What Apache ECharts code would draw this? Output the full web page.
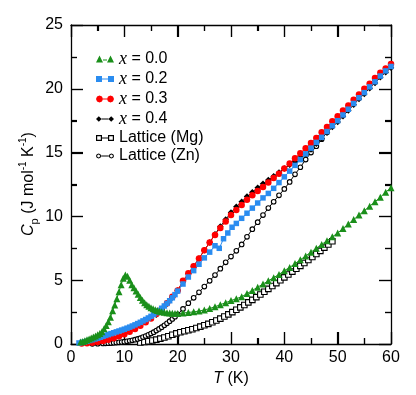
<!DOCTYPE html>
<html><head><meta charset="utf-8">
<script src="https://cdn.jsdelivr.net/npm/echarts@6/dist/echarts.min.js"></script>
<style>html,body{margin:0;padding:0;background:#fff;}#c{width:416px;height:395px;}</style>
</head><body><div id="c"></div>
<script>
// ---- data (T in K, Cp in J mol^-1 K^-1) ----
const seriesNames = ['x = 0.0', 'x = 0.2', 'x = 0.3', 'x = 0.4', 'Lattice (Mg)', 'Lattice (Zn)'];
const xTicks = [0, 10, 20, 30, 40, 50, 60];
const yTicks = [0, 5, 10, 15, 20, 25];

const T_x00 = [1.8,2.2,2.6,3.0,3.4,3.8,4.2,4.6,5.0,5.4,5.8,6.2,6.6,7.0,7.4,7.8,8.2,8.6,9.0,9.4,9.8,10.2,10.6,11.0,11.4,11.8,12.2,12.6,13.0,13.4,13.8,14.2,14.6,15.0,15.4,15.8,16.2,16.6,17.0,17.5,18,18.5,19,19.5,20,
  21,22,23,24,25,26,27,28,29,30,31,32,33,34,35,36,37,38,39,40,41,42,43,44,45,46,47,48,49,50,51,52,53,54,55,56,57,58,59,60];
const C_x00 = [0.15,0.2,0.26,0.33,0.4,0.47,0.55,0.63,0.72,0.83,0.96,1.2,1.45,1.75,2.1,2.6,3.05,3.55,4.1,4.65,5.15,5.4,5.3,5.0,4.65,4.4,4.15,3.9,3.65,3.42,3.24,3.08,2.95,2.85,2.76,2.68,2.62,2.57,2.52,2.48,2.45,2.43,2.41,2.4,2.4,
  2.43,2.47,2.52,2.58,2.67,2.78,2.92,3.08,3.24,3.4,3.55,3.7,3.95,4.2,4.45,4.7,4.95,5.2,5.45,5.75,6.0,6.3,6.6,6.9,7.2,7.5,7.8,8.1,8.4,8.7,9.05,9.4,9.75,10.1,10.45,10.8,11.15,11.5,11.9,12.25];

const T_x02 = [1.5,2,2.5,3,3.5,4,4.5,5,5.5,6,6.5,7,7.5,8,8.5,9,9.5,10,10.5,11,11.5,12,12.5,13,13.5,14,14.5,15,15.5,16,16.5,17,17.5,18,18.5,19,19.5,20,
  21,22,23,24,25,26,27,27.8,28.6,29.4,30.2,31,32,33,34,35,36,37,38,39,40,41,42,43,44,45,46,47,48,49,50,51,52,53,54,55,56,57,58,59,60];
const C_x02 = [0.08,0.12,0.17,0.22,0.28,0.34,0.4,0.46,0.53,0.6,0.67,0.74,0.81,0.88,0.95,1.02,1.09,1.16,1.24,1.32,1.41,1.5,1.6,1.7,1.81,1.92,2.04,2.17,2.31,2.46,2.62,2.8,2.98,3.18,3.39,3.62,3.87,4.15,
  4.7,5.25,5.75,6.25,6.75,7.2,7.7,7.5,8.25,8.7,9.15,9.45,9.85,10.25,10.65,11.05,11.45,11.8,12.2,12.65,13.1,13.55,14.0,14.45,14.9,15.35,15.8,16.2,16.65,17.1,17.5,17.95,18.4,18.85,19.3,19.7,20.15,20.55,21.0,21.4,21.75];

const T_x03 = [2,3,4,5,6,7,8,9,10,11,12,13,14,15,16,17,18,19,20,
  21,22,23,24,25,26,27,28,29,30,31,32,33,34,35,36,37,38,39,40,41,42,43,44,45,46,47,48,49,50,51,52,53,54,55,56,57,58,59,60];
const C_x03 = [0.03,0.06,0.1,0.16,0.24,0.34,0.46,0.6,0.77,0.96,1.18,1.43,1.7,2.0,2.35,2.75,3.2,3.7,4.2,
  4.95,5.55,6.1,6.7,7.35,7.95,8.55,9.1,9.6,10.1,10.5,10.9,11.3,11.65,12.0,12.3,12.65,13.0,13.35,13.75,14.15,14.55,14.95,15.35,15.75,16.15,16.6,17.0,17.45,17.85,18.3,18.7,19.15,19.55,20.0,20.4,20.85,21.25,21.6,21.95];

const T_x04 = [16,17,18,19,20,21,22,23,24,25,26,27,28,29,30,31,32,33,34,35,36,37,38,39,40,41,42,43,44,45,46,47,48,49,50,51,52,53,54,55,56,57,58,59,60];
const C_x04 = [2.3,2.7,3.15,3.65,4.2,4.9,5.5,6.1,6.7,7.35,7.95,8.6,9.2,9.75,10.3,10.75,11.15,11.55,11.9,12.25,12.55,12.85,13.15,13.45,13.75,14.05,14.3,14.6,14.85,15.25,15.7,16.1,16.55,17.0,17.4,17.85,18.3,18.75,19.2,19.6,20.05,20.45,20.9,21.3,21.65];

const T_Mg = [13,13.75,14.5,15.25,16,16.75,17.5,18.25,19,19.75,20.5,21.25,22,22.75,23.5,24.25,25,25.75,26.5,27.25,28,28.75,29.5,30.25,31,31.75,32.5,33.25,34,34.75,35.5,36.25,37,37.75,38.5,39.25,40,40.75,41.5,42.25,43,43.75,44.5,45.25,46,46.75,47.5,48.25,49];
const C_Mg = [0.12,0.16,0.21,0.27,0.34,0.42,0.51,0.61,0.72,0.83,0.92,1.0,1.08,1.16,1.25,1.36,1.47,1.58,1.7,1.84,1.99,2.15,2.32,2.5,2.68,2.87,3.06,3.26,3.46,3.67,3.88,4.1,4.32,4.54,4.77,5.0,5.22,5.45,5.67,5.9,6.12,6.35,6.58,6.82,7.05,7.3,7.55,7.8,8.05];

const T_Zn = [4,5,6,6.5,7,7.5,8,8.5,9,9.5,10,10.5,11,11.5,12,12.5,13,13.5,14,14.5,15,15.5,16,16.5,17,17.5,18,18.5,19,19.5,20,
  21,22,23,24,25,26,27,28,29,30,31,32,33,34,35,36,37,38,39,40,41,42,43,44,45,46,47,48];
const C_Zn = [0.01,0.02,0.04,0.05,0.06,0.075,0.09,0.11,0.13,0.155,0.18,0.21,0.25,0.29,0.34,0.4,0.46,0.54,0.62,0.72,0.82,0.93,1.05,1.18,1.32,1.47,1.62,1.79,1.96,2.14,2.33,
  2.75,3.2,3.62,4.05,4.5,4.95,5.4,5.9,6.4,6.85,7.3,7.8,8.4,9.0,9.55,10.1,10.65,11.15,11.65,12.15,12.7,13.3,13.85,14.45,15.0,15.5,16.05,16.6];

// ---- chart ----
const zip = (a, b) => a.map((t, i) => [t, b[i]]);
const GREEN = '#1a8f1a', BLUE = '#2a8cf0', RED = '#ff0000', BLACK = '#000000';
const FONT = 'Liberation Sans';
const X_MIN = xTicks[0], X_MAX = xTicks[xTicks.length - 1];
const Y_MIN = yTicks[0], Y_MAX = yTicks[yTicks.length - 1];

// backup tick marks drawn through the axes' scales (inward, all four sides)
const mid = arr => arr.slice(1).map((t, i) => (t + arr[i]) / 2);
const tickData = [].concat(
  xTicks.map(v => [v, 0]), mid(xTicks).map(v => [v, 1]),
  yTicks.map(v => [v, 2]), mid(yTicks).map(v => [v, 3])
);
function renderTick(params, api) {
  const v = api.value(0), kind = api.value(1);
  const len = (kind === 0 || kind === 2) ? 12 : 6;
  let lines;
  if (kind < 2) {
    const pb = api.coord([v, Y_MIN]), pt = api.coord([v, Y_MAX]);
    const x = Math.round(pb[0]) + 0.5;
    lines = [[x, pb[1], x, pb[1] - len], [x, pt[1], x, pt[1] + len]];
  } else {
    const pl = api.coord([X_MIN, v]), pr = api.coord([X_MAX, v]);
    const y = Math.round(pl[1]) + 0.5;
    lines = [[pl[0], y, pl[0] + len, y], [pr[0], y, pr[0] - len, y]];
  }
  return { type: 'group', children: lines.map(l => ({
    type: 'line', shape: { x1: l[0], y1: l[1], x2: l[2], y2: l[3] },
    style: { stroke: '#000', lineWidth: 1.2 } })) };
}

const icons = {
  tri: 'path://M0,7 L3.5,0 L7,7 Z M7,4 L11,4 L11,5 L7,5 Z M11,7 L14.5,0 L18,7 Z',
  sq: 'path://M0,0.5 L6,0.5 L6,6.5 L0,6.5 Z M6,3 L12,3 L12,4 L6,4 Z M12,0.5 L18,0.5 L18,6.5 L12,6.5 Z',
  circ: 'path://M7,3.5 L5.97,5.97 L3.5,7 L1.03,5.97 L0,3.5 L1.03,1.03 L3.5,0 L5.97,1.03 Z M7,3 L11,3 L11,4 L7,4 Z M18,3.5 L16.97,5.97 L14.5,7 L12.03,5.97 L11,3.5 L12.03,1.03 L14.5,0 L16.97,1.03 Z',
  dia: 'path://M1,3.5 L3.5,1 L6,3.5 L3.5,6 Z M6,3 L12,3 L12,4 L6,4 Z M12,3.5 L14.5,1 L17,3.5 L14.5,6 Z',
  hsq: 'path://M0,0.5 L6,0.5 L6,6.5 L0,6.5 Z M1.2,1.7 L1.2,5.3 L4.8,5.3 L4.8,1.7 Z M6,3 L12,3 L12,4 L6,4 Z M12,0.5 L18,0.5 L18,6.5 L12,6.5 Z M13.2,1.7 L13.2,5.3 L16.8,5.3 L16.8,1.7 Z',
  hcirc: 'path://M5.2,3.5 L4.44,5.34 L2.6,6.1 L0.76,5.34 L0,3.5 L0.76,1.66 L2.6,0.9 L4.44,1.66 Z M4.1,3.5 L3.66,2.44 L2.6,2.0 L1.54,2.44 L1.1,3.5 L1.54,4.56 L2.6,5.0 L3.66,4.56 Z M5.2,3 L12.8,3 L12.8,4 L5.2,4 Z M18,3.5 L17.24,5.34 L15.4,6.1 L13.56,5.34 L12.8,3.5 L13.56,1.66 L15.4,0.9 L17.24,1.66 Z M16.9,3.5 L16.46,2.44 L15.4,2.0 L14.34,2.44 L13.9,3.5 L14.34,4.56 L15.4,5.0 L16.46,4.56 Z'
};

function axisStyle() {
  return {
    axisLine: { show: true, onZero: false, lineStyle: { color: '#000', width: 1.3 } },
    axisTick: { show: true, inside: true, length: 12, lineStyle: { color: '#000', width: 1.2 } },
    minorTick: { show: true, splitNumber: 2, length: 6, lineStyle: { color: '#000', width: 1.2 } },
    splitLine: { show: false },
    minorSplitLine: { show: false }
  };
}

function lineSeries(name, data, symbol, size, color, hollow) {
  return {
    name, type: 'line', data, symbol, symbolSize: size,
    xAxisIndex: 0, yAxisIndex: 0,
    showAllSymbol: true, animation: false,
    lineStyle: { color: hollow ? '#000' : color, width: 1 },
    itemStyle: hollow ? { color: '#fff', borderColor: '#000', borderWidth: 1.1 } : { color: color, borderWidth: 0 },
    emphasis: { disabled: true }
  };
}

const option = {
  animation: false,
  backgroundColor: '#fff',
  grid: { left: 71, right: 25, top: 25, bottom: 51 },
  legend: {
    orient: 'vertical', left: 91, top: 45,
    itemWidth: 18, itemHeight: 7, itemGap: 2,
    selectedMode: false,
    itemStyle: { borderWidth: 0 },
    data: [
      { name: seriesNames[0], icon: icons.tri, itemStyle: { color: GREEN } },
      { name: seriesNames[1], icon: icons.sq, itemStyle: { color: BLUE } },
      { name: seriesNames[2], icon: icons.circ, itemStyle: { color: RED } },
      { name: seriesNames[3], icon: icons.dia, itemStyle: { color: BLACK } },
      { name: seriesNames[4], icon: icons.hsq, itemStyle: { color: BLACK, borderWidth: 0 } },
      { name: seriesNames[5], icon: icons.hcirc, itemStyle: { color: BLACK, borderWidth: 0 } }
    ],
    formatter: function (n) {
      if (n.indexOf('x = ') === 0) return '{i|x}' + n.slice(1);
      return n;
    },
    textStyle: {
      fontFamily: FONT, fontSize: 16, color: '#000', lineHeight: 16,
      rich: { i: { fontFamily: 'Liberation Serif', fontStyle: 'italic', fontSize: 18, lineHeight: 16, color: '#000' } }
    }
  },
  graphic: [{
    type: 'text', x: 29, y: 184, rotation: Math.PI / 2, silent: true,
    style: {
      text: '{c|C}{sub|p}{n| (J mol}{sup|-1}{n| K}{sup|-1}{n|)}',
      align: 'center', verticalAlign: 'middle',
      fontFamily: FONT, fontSize: 16, fill: '#000',
      rich: {
        c: { fontFamily: FONT, fontStyle: 'italic', fontSize: 16, lineHeight: 22, fill: '#000' },
        n: { fontFamily: FONT, fontSize: 16, lineHeight: 22, fill: '#000' },
        sub: { fontFamily: FONT, fontSize: 11, lineHeight: 11, verticalAlign: 'bottom', fill: '#000' },
        sup: { fontFamily: FONT, fontSize: 10, lineHeight: 10, verticalAlign: 'top', fill: '#000' }
      }
    }
  }],
  xAxis: [
    Object.assign({
      type: 'value', min: X_MIN, max: X_MAX, interval: 10, position: 'bottom',
      name: '{i|T} (K)', nameLocation: 'middle', nameGap: 26,
      nameTextStyle: { fontFamily: FONT, fontSize: 16, color: '#000',
        rich: { i: { fontFamily: FONT, fontStyle: 'italic', fontSize: 16, color: '#000' } } },
      axisLabel: { fontFamily: FONT, fontSize: 16, color: '#000', margin: 6 }
    }, axisStyle()),
    Object.assign({
      type: 'value', min: X_MIN, max: X_MAX, interval: 10, position: 'top',
      axisLabel: { show: false }
    }, axisStyle())
  ],
  yAxis: [
    Object.assign({
      type: 'value', min: Y_MIN, max: Y_MAX, interval: 5, position: 'left',
      axisLabel: { fontFamily: FONT, fontSize: 16, color: '#000', margin: 8 }
    }, axisStyle()),
    Object.assign({
      type: 'value', min: Y_MIN, max: Y_MAX, interval: 5, position: 'right',
      axisLabel: { show: false }
    }, axisStyle())
  ],
  series: [
    { name: 'ticks', type: 'custom', xAxisIndex: 0, yAxisIndex: 0, data: tickData,
      renderItem: renderTick, clip: false, silent: true, animation: false },
    lineSeries(seriesNames[4], zip(T_Mg, C_Mg), 'rect', 5.5, BLACK, true),
    lineSeries(seriesNames[5], zip(T_Zn, C_Zn), 'circle', 4.6, BLACK, true),
    lineSeries(seriesNames[3], zip(T_x04, C_x04), 'diamond', 6.5, BLACK, false),
    lineSeries(seriesNames[2], zip(T_x03, C_x03), 'circle', 6.5, RED, false),
    lineSeries(seriesNames[1], zip(T_x02, C_x02), 'rect', 5.5, BLUE, false),
    lineSeries(seriesNames[0], zip(T_x00, C_x00), 'triangle', 7, GREEN, false)
  ]
};

const chart = echarts.init(document.getElementById('c'), null, { renderer: 'canvas' });
chart.setOption(option);
</script>
</body></html>
